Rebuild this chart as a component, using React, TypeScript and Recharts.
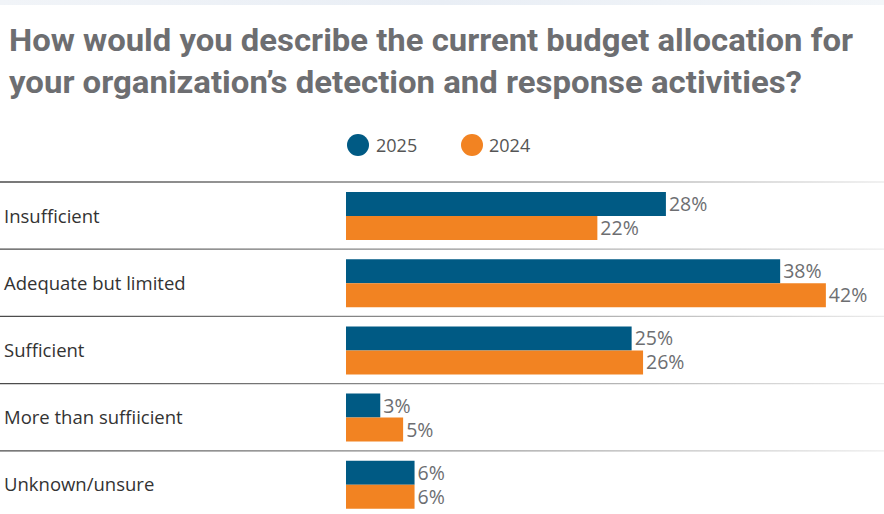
import React from 'react';
import { BarChart, Bar, XAxis, YAxis, LabelList } from 'recharts';

const categories = ['Insufficient', 'Adequate but limited', 'Sufficient', 'More than suffiicient', 'Unknown/unsure'];
const values2025 = [28, 38, 25, 3, 6];
const values2024 = [22, 42, 26, 5, 6];
const seriesNames = ['2025', '2024'];
const titleLines = [
  'How would you describe the current budget allocation for',
  'your organization\u2019s detection and response activities?',
];

const COLORS = ['#005a84', '#f28322'];
const BAND = 67.2;

const data = categories.map((name, i) => ({ name, v2025: values2025[i], v2024: values2024[i] }));

const CategoryTick = (props: any) => {
  const { y, payload } = props;
  const top = y - BAND / 2;
  return (
    <g>
      <defs>
        <linearGradient id={`sep${payload.index}`} gradientUnits="userSpaceOnUse" x1={0} y1={0} x2={884} y2={0}>
          <stop offset="0%" stopColor="#4a4a4a" />
          <stop offset="55%" stopColor="#9a9a9a" />
          <stop offset="100%" stopColor="#ececec" />
        </linearGradient>
      </defs>
      <line x1={0} x2={884} y1={top} y2={top} stroke={`url(#sep${payload.index})`} strokeWidth={1.3} />
      <text x={4} y={y} dy={7} textAnchor="start" fill="#333333" fontSize={18.5} fontFamily="'Open Sans', sans-serif">
        {payload.value}
      </text>
    </g>
  );
};

const fmt = (v: any) => `${v}%`;

export default function App() {
  return (
    <div style={{ position: 'absolute', left: 0, top: 0, width: 884, height: 514, background: '#ffffff', overflow: 'hidden' }}>
      <div style={{ position: 'absolute', left: 0, top: 0, width: 884, height: 5, background: 'linear-gradient(90deg,#f1f4f8,#e9eef5,#f3f6f9)' }} />
      <svg width={884} height={175} style={{ position: 'absolute', left: 0, top: 0 }}>
        <text x={9} y={51} fill="#6d6e71" fontSize={31} fontWeight={700} fontFamily="Roboto, sans-serif" textLength={844} lengthAdjust="spacingAndGlyphs">
          {titleLines[0]}
        </text>
        <text x={9} y={93} fill="#6d6e71" fontSize={31} fontWeight={700} fontFamily="Roboto, sans-serif" textLength={793} lengthAdjust="spacingAndGlyphs">
          {titleLines[1]}
        </text>
        <circle cx={358} cy={145} r={11} fill={COLORS[0]} />
        <text x={376} y={152} fill="#555555" fontSize={18} fontFamily="'Open Sans', sans-serif">{seriesNames[0]}</text>
        <circle cx={472} cy={145} r={11} fill={COLORS[1]} />
        <text x={489} y={152} fill="#555555" fontSize={18} fontFamily="'Open Sans', sans-serif">{seriesNames[1]}</text>
      </svg>
      <div style={{ position: 'absolute', left: 0, top: 0 }}>
        <BarChart
          width={884}
          height={518}
          data={data}
          layout="vertical"
          margin={{ top: 182, right: 1, bottom: 0, left: 0 }}
          barGap={0}
          barSize={24}
        >
          <XAxis type="number" domain={[0, 47]} hide />
          <YAxis type="category" dataKey="name" width={346} axisLine={false} tickLine={false} tick={<CategoryTick />} interval={0} />
          <Bar dataKey="v2025" name={seriesNames[0]} fill={COLORS[0]} isAnimationActive={false}>
            <LabelList dataKey="v2025" position="right" offset={3} formatter={fmt} fill="#6d6e71" fontSize={19.5} fontFamily="'Open Sans', sans-serif" />
          </Bar>
          <Bar dataKey="v2024" name={seriesNames[1]} fill={COLORS[1]} isAnimationActive={false}>
            <LabelList dataKey="v2024" position="right" offset={3} formatter={fmt} fill="#6d6e71" fontSize={19.5} fontFamily="'Open Sans', sans-serif" />
          </Bar>
        </BarChart>
      </div>
    </div>
  );
}
